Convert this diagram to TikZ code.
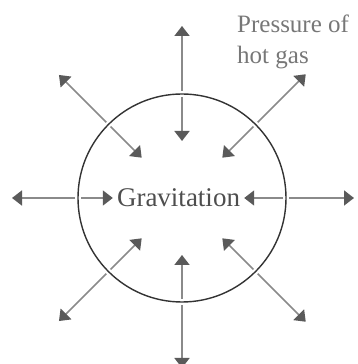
\documentclass[tikz,border=0pt]{standalone}
\usepackage{fontspec}
\setmainfont{Liberation Serif}
\usetikzlibrary{arrows.meta,calc}
\definecolor{linegray}{HTML}{8A8A8A}
\definecolor{headgray}{HTML}{5A5A5A}
\definecolor{textgray}{HTML}{4E4E4E}
\definecolor{labelgray}{HTML}{777777}
\tikzset{
  force/.style={draw=linegray, line width=1.7pt,
    -{Triangle[length=10pt,width=15pt,fill=headgray,color=headgray]}},
  ring/.style={draw=black!80, line width=1.4pt},
}
\begin{document}
\begin{tikzpicture}[x=1pt,y=1pt]
\useasboundingbox (0,0) rectangle (357,364);
\coordinate (c) at (182,166);
\draw[ring] (c) circle (104);
\node[font=\fontsize{27}{30}\selectfont, text=textgray, inner sep=4pt] (g) at (178.5,166) {Gravitation};
\node[font=\fontsize{25}{31}\selectfont, text=labelgray, align=left, anchor=north west, inner sep=0pt] (p) at (237,349) {Pressure of\\hot gas};
% outward arrows
\foreach \a/\r in {90/172, 270/170, 0/172, 180/170, 45/175, 135/174, 225/174, 315/175} {
  \coordinate (o1) at ($(c)+(\a:107)$);
  \coordinate (o2) at ($(c)+(\a:\r)$);
  \draw[force] (o1) -- (o2);
}
% inward arrows (diagonal + vertical)
\foreach \a in {90,270,45,135,225,315} {
  \coordinate (i1) at ($(c)+(\a:101)$);
  \coordinate (i2) at ($(c)+(\a:57)$);
  \draw[force] (i1) -- (i2);
}
% horizontal inward arrows to the text
\coordinate (l1) at ($(c)+(180:101)$);
\coordinate (r1) at ($(c)+(0:101)$);
\draw[force] (l1) -- (g.west);
\draw[force] (r1) -- (g.east);
\end{tikzpicture}
\end{document}
